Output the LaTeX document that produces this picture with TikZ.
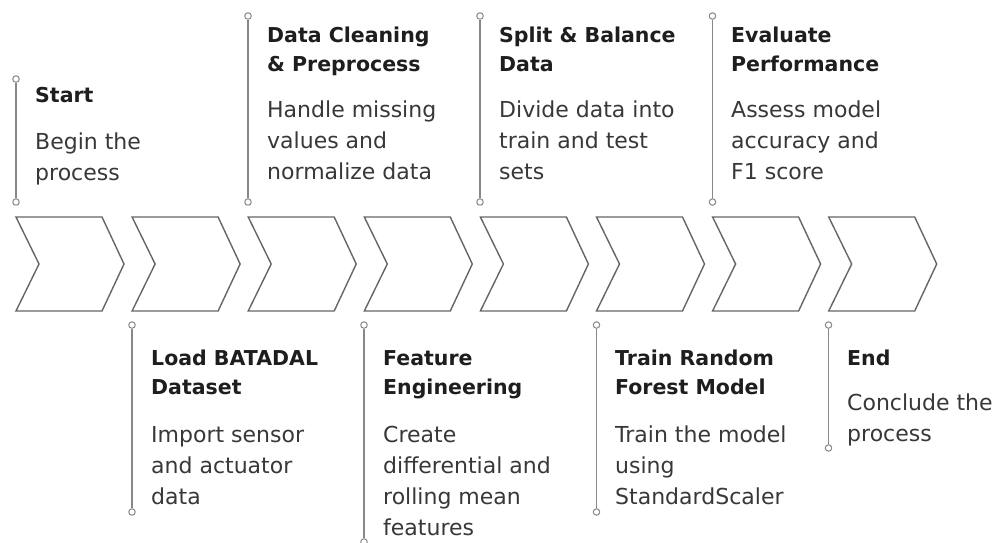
\documentclass[tikz,border=0pt]{standalone}
\usepackage{fontspec}
\setmainfont{DejaVu Sans}
\definecolor{chevgray}{HTML}{666666}
\definecolor{markgray}{HTML}{888888}
\definecolor{titlecol}{HTML}{1E1E1E}
\definecolor{bodycol}{HTML}{383838}
\newcommand\mylines[1]{\begin{tabular}[t]{@{}l@{}}#1\end{tabular}}
\begin{document}
\begin{tikzpicture}[x=1pt,y=-1pt,
  chev/.style={draw=chevgray,line width=1.4pt,line join=miter},
  mline/.style={draw=markgray,line width=1.3pt},
  dot/.style={circle,draw=markgray,fill=white,line width=1pt,inner sep=0pt,minimum size=6.5pt},
  ttl/.style={anchor=base west,inner sep=0pt,text=titlecol,font=\fontsize{20.5}{29.5}\selectfont\bfseries},
  bdy/.style={anchor=base west,inner sep=0pt,text=bodycol,font=\fontsize{22}{31}\selectfont}]
\useasboundingbox[fill=white] (0,0) rectangle (998,542);

% chevrons
\foreach \i in {0,...,7}{
  \pgfmathsetmacro{\L}{16+116.1*\i}
  \draw[chev] (\L,217) -- (\L+86,217) -- (\L+108,264) -- (\L+86,311) -- (\L,311) -- (\L+23,264) -- cycle;
}

% top markers
\node[dot] (m1a) at (16,79) {};
\node[dot] (m1b) at (16,202) {};
\draw[mline] (m1a) -- (m1b);
\node[dot] (m3a) at (248,16) {};
\node[dot] (m3b) at (248,202) {};
\draw[mline] (m3a) -- (m3b);
\node[dot] (m5a) at (480,16) {};
\node[dot] (m5b) at (480,202) {};
\draw[mline] (m5a) -- (m5b);
\node[dot] (m7a) at (712.5,16) {};
\node[dot] (m7b) at (712.5,202) {};
\draw[mline] (m7a) -- (m7b);

% bottom markers
\node[dot] (m2a) at (132,325) {};
\node[dot] (m2b) at (132,512) {};
\draw[mline] (m2a) -- (m2b);
\node[dot] (m4a) at (364,325) {};
\node[dot] (m4b) at (364,542) {};
\draw[mline] (m4a) -- (m4b);
\node[dot] (m6a) at (596.5,325) {};
\node[dot] (m6b) at (596.5,512) {};
\draw[mline] (m6a) -- (m6b);
\node[dot] (m8a) at (828.5,325) {};
\node[dot] (m8b) at (828.5,448) {};
\draw[mline] (m8a) -- (m8b);

% top texts
\node[ttl] (t1) at (35,102) {Start};
\node[bdy] (b1) at (35,149) {\mylines{Begin the\\process}};
\node[ttl] (t3) at (267,42) {\mylines{Data Cleaning\\\& Preprocess}};
\node[bdy] (b3) at (267,117.5) {\mylines{Handle missing\\values and\\normalize data}};
\node[ttl] (t5) at (499,42) {\mylines{Split \& Balance\\Data}};
\node[bdy] (b5) at (499,117.5) {\mylines{Divide data into\\train and test\\sets}};
\node[ttl] (t7) at (731,42) {\mylines{Evaluate\\Performance}};
\node[bdy] (b7) at (731,117.5) {\mylines{Assess model\\accuracy and\\F1 score}};

% bottom texts
\node[ttl] (t2) at (151,365) {\mylines{Load BATADAL\\Dataset}};
\node[bdy] (b2) at (151,442.5) {\mylines{Import sensor\\and actuator\\data}};
\node[ttl] (t4) at (383,365) {\mylines{Feature\\Engineering}};
\node[bdy] (b4) at (383,442.5) {\mylines{Create\\differential and\\rolling mean\\features}};
\node[ttl] (t6) at (615,365) {\mylines{Train Random\\Forest Model}};
\node[bdy] (b6) at (615,442.5) {\mylines{Train the model\\using\\StandardScaler}};
\node[ttl] (t8) at (847,365) {End};
\node[bdy] (b8) at (847,410.5) {\mylines{Conclude the\\process}};
\end{tikzpicture}
\end{document}
